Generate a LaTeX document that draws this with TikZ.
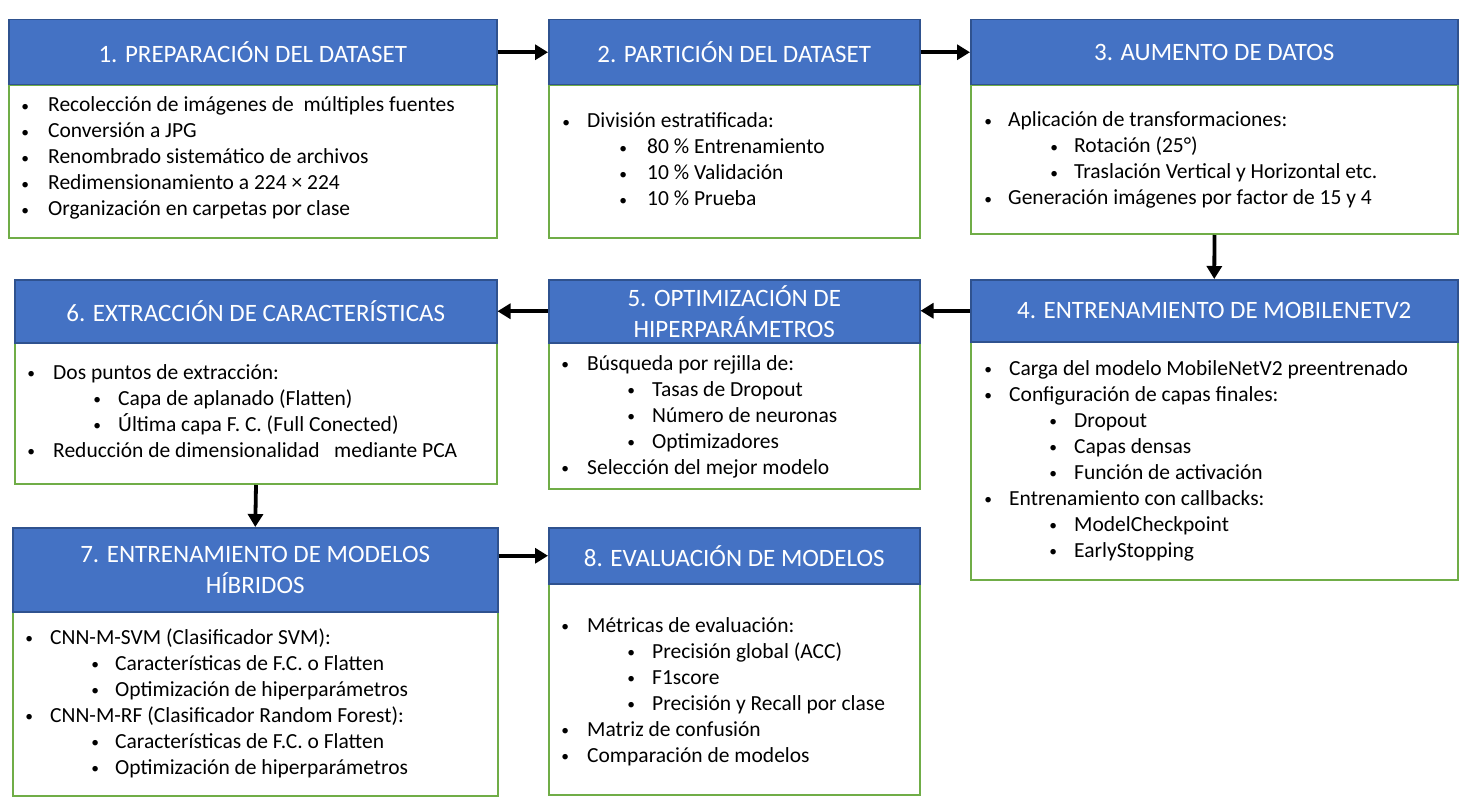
\documentclass[tikz,border=0pt]{standalone}
\usepackage{graphicx}
\usepackage{fontspec}
\setmainfont{Carlito}
\usetikzlibrary{arrows.meta,calc}
\definecolor{hdrblue}{HTML}{4472C4}
\definecolor{hdrline}{HTML}{2F528F}
\definecolor{bodygreen}{HTML}{70AD47}
\newcommand\myit[3]{\hspace*{#1pt}\makebox[0pt]{\raisebox{0.5pt}{\scalebox{0.72}{\textbullet}}}\hspace*{#2pt}#3}
\begin{document}
\begin{tikzpicture}[x=1pt,y=-1pt,
  hdr/.style={draw=hdrline, line width=1.5pt, fill=hdrblue, text=white,
    font=\fontsize{25}{31}\selectfont, align=center, inner sep=0pt, anchor=north west},
  bodybox/.style={draw=bodygreen, line width=2pt, fill=white, inner sep=0pt, anchor=north west},
  txt/.style={anchor=base west, inner sep=0pt, font=\fontsize{21.5}{26}\selectfont},
  arr/.style={line width=3.8pt, -{Triangle[length=13pt,width=15pt]}}]
\useasboundingbox[fill=white] (0,0) rectangle (1471,805);

% Box 1
\node[bodybox, minimum width=488pt, minimum height=153pt] (b1) at (8,84) {};
\node[hdr, minimum width=488pt, minimum height=65pt] (h1) at (8,19) {1. PREPARACIÓN DEL DATASET};
\node[txt] (t1) at (8,112) {\parbox[t]{480pt}{\raggedright
\myit{17}{23}{Recolección de imágenes de ~múltiples fuentes}\\
\myit{17}{23}{Conversión a JPG}\\
\myit{17}{23}{Renombrado sistemático de archivos}\\
\myit{17}{23}{Redimensionamiento a 224 × 224}\\
\myit{17}{23}{Organización en carpetas por clase}}};

% Box 2
\node[bodybox, minimum width=371pt, minimum height=153pt] (b2) at (548,84) {};
\node[hdr, minimum width=371pt, minimum height=65pt] (h2) at (548,19) {2. PARTICIÓN DEL DATASET};
\node[txt] (t2) at (548,128) {\parbox[t]{360pt}{\raggedright
\myit{18}{21}{División estratificada:}\\
\myit{75}{24}{80~\% Entrenamiento}\\
\myit{75}{24}{10~\% Validación}\\
\myit{75}{24}{10~\% Prueba}}};

% Box 3
\node[bodybox, minimum width=487pt, minimum height=149pt] (b3) at (970,84) {};
\node[hdr, minimum width=487pt, minimum height=65pt] (h3) at (970,19) {3. AUMENTO DE DATOS};
\node[txt] (t3) at (970,127) {\parbox[t]{480pt}{\raggedright
\myit{18}{20}{Aplicación de transformaciones:}\\
\myit{84}{20}{Rotación (25°)}\\
\myit{84}{20}{Traslación Vertical y Horizontal etc.}\\
\myit{18}{20}{Generación imágenes por factor de 15 y 4}}};

% Box 4
\node[bodybox, minimum width=487pt, minimum height=239pt] (b4) at (970,340) {};
\node[hdr, minimum width=487pt, minimum height=62pt] (h4) at (970,279) {4. ENTRENAMIENTO DE MOBILENETV2};
\node[txt] (t4) at (970,375) {\parbox[t]{480pt}{\raggedright
\myit{18}{21}{Carga del modelo MobileNetV2 preentrenado}\\
\myit{18}{21}{Configuración de capas finales:}\\
\myit{83}{21}{Dropout}\\
\myit{83}{21}{Capas densas}\\
\myit{83}{21}{Función de activación}\\
\myit{18}{21}{Entrenamiento con callbacks:}\\
\myit{83}{21}{ModelCheckpoint}\\
\myit{83}{21}{EarlyStopping}}};

% Box 5
\node[bodybox, minimum width=371pt, minimum height=146pt] (b5) at (548,342) {};
\node[hdr, minimum width=371pt, minimum height=63pt] (h5) at (548,279) {5. OPTIMIZACIÓN DE\\HIPERPARÁMETROS};
\node[txt] (t5) at (548,370) {\parbox[t]{360pt}{\raggedright
\myit{17}{22}{Búsqueda por rejilla de:}\\
\myit{83}{21}{Tasas de Dropout}\\
\myit{83}{21}{Número de neuronas}\\
\myit{83}{21}{Optimizadores}\\
\myit{17}{22}{Selección del mejor modelo}}};

% Box 6
\node[bodybox, minimum width=482pt, minimum height=141pt] (b6) at (14,342) {};
\node[hdr, minimum width=482pt, minimum height=63pt] (h6) at (14,279) {6. EXTRACCIÓN DE CARACTERÍSTICAS};
\node[txt] (t6) at (14,379) {\parbox[t]{470pt}{\raggedright
\myit{17}{22}{Dos puntos de extracción:}\\
\myit{83}{21}{Capa de aplanado (Flatten)}\\
\myit{83}{21}{Última capa F. C. (Full Conected)}\\
\myit{17}{22}{Reducción de dimensionalidad ~ mediante PCA}}};

% Box 7
\node[bodybox, minimum width=485pt, minimum height=184pt] (b7) at (12,611) {};
\node[hdr, minimum width=485pt, minimum height=84pt] (h7) at (12,527) {7. ENTRENAMIENTO DE MODELOS\\HÍBRIDOS};
\node[txt] (t7) at (12,644) {\parbox[t]{475pt}{\raggedright
\myit{17}{21}{CNN-M-SVM (Clasificador SVM):}\\
\myit{83}{20}{Características de F.C. o Flatten}\\
\myit{83}{20}{Optimización de hiperparámetros}\\
\myit{17}{21}{CNN-M-RF (Clasificador Random Forest):}\\
\myit{83}{20}{Características de F.C. o Flatten}\\
\myit{83}{20}{Optimización de hiperparámetros}}};

% Box 8
\node[bodybox, minimum width=371pt, minimum height=211pt] (b8) at (548,583) {};
\node[hdr, minimum width=371pt, minimum height=56pt] (h8) at (548,527) {8. EVALUACIÓN DE MODELOS};
\node[txt] (t8) at (548,632) {\parbox[t]{360pt}{\raggedright
\myit{17}{22}{Métricas de evaluación:}\\
\myit{83}{21}{Precisión global (ACC)}\\
\myit{83}{21}{F1score}\\
\myit{83}{21}{Precisión y Recall por clase}\\
\myit{17}{22}{Matriz de confusión}\\
\myit{17}{22}{Comparación de modelos}}};

% Arrows
\draw[arr] (h1.east) -- (h2.west);
\draw[arr] (h2.east) -- (h3.west);
\draw[arr] (b3.south) -- (h4.north);
\draw[arr] (h4.west) -- (h5.east |- h4.west);
\draw[arr] (h5.west) -- (h6.east |- h5.west);
\draw[arr] (b6.south) -- (h7.north);
\draw[arr] (h7.east |- h8.west) -- (h8.west);
\end{tikzpicture}
\end{document}
